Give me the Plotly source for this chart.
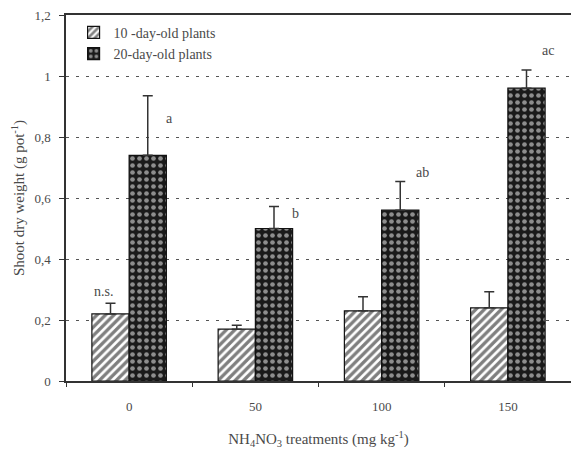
import plotly.graph_objects as go

categories = ["0", "50", "100", "150"]
day10 = [0.22, 0.17, 0.23, 0.24]
day10_err = [0.035, 0.013, 0.046, 0.053]
day20 = [0.74, 0.50, 0.56, 0.96]
day20_err = [0.195, 0.072, 0.094, 0.06]
letters10 = ["n.s.", "", "", ""]
letters20 = ["a", "b", "ab", "ac"]
yticks = [0, 0.2, 0.4, 0.6, 0.8, 1.0, 1.2]
yticklabels = ["0", "0,2", "0,4", "0,6", "0,8", "1", "1,2"]

FONT = "Liberation Serif"
TXT = "#4a4a4a"
# vertical placement of letter labels relative to the error-bar top (style, not data)
LETTER_DY20 = [-0.073, -0.022, 0.031, 0.065]

fig = go.Figure()
fig.add_trace(go.Bar(
    name="10 -day-old plants", x=categories, y=day10,
    marker=dict(color="white", line=dict(color="#111", width=1.2),
                pattern=dict(shape="/", fgcolor="#000", bgcolor="white", size=6, solidity=0.55)),
    error_y=dict(type="data", symmetric=False, array=day10_err, arrayminus=[0]*4,
                 color="#333", thickness=1.5, width=5),
))
fig.add_trace(go.Bar(
    name="20-day-old plants", x=categories, y=day20,
    marker=dict(color="#1a1a1a", line=dict(color="#111", width=1.2),
                pattern=dict(shape=".", fgcolor="white", bgcolor="#1a1a1a", size=7, solidity=0.35)),
    error_y=dict(type="data", symmetric=False, array=day20_err, arrayminus=[0]*4,
                 color="#333", thickness=1.5, width=5),
))

# letter annotations
for i, t in enumerate(letters10):
    if t:
        fig.add_annotation(x=i - 0.2, y=day10[i] + day10_err[i] + 0.04, text=t, showarrow=False,
                           font=dict(family=FONT, size=14, color=TXT))
for i, t in enumerate(letters20):
    if t:
        fig.add_annotation(x=i + 0.32, y=day20[i] + day20_err[i] + LETTER_DY20[i],
                           text=t, showarrow=False, xanchor="center",
                           font=dict(family=FONT, size=14, color=TXT))

fig.update_layout(
    width=571, height=449, autosize=False,
    margin=dict(l=66, r=0, t=15, b=68),
    plot_bgcolor="white", paper_bgcolor="white",
    barmode="group", bargap=0.41, bargroupgap=0,
    font=dict(family=FONT, size=12, color=TXT),
    showlegend=True,
    legend=dict(x=0.015, y=0.995, xanchor="left", yanchor="top", bgcolor="rgba(0,0,0,0)",
                font=dict(family=FONT, size=14, color=TXT), tracegroupgap=2, itemwidth=30),
    xaxis=dict(showline=True, linecolor="#333", linewidth=1.5, mirror=True, automargin=False,
               ticks="outside", ticklen=4, tickcolor="#333", tickson="boundaries",
               ticklabelstandoff=13,
               tickfont=dict(family=FONT, size=13, color=TXT),
               title=dict(text="NH<sub>4</sub>NO<sub>3</sub> treatments (mg kg<sup>-1</sup>)",
                          font=dict(family=FONT, size=15, color=TXT), standoff=20),
               range=[-0.5, 3.5]),
    yaxis=dict(range=[0, 1.2], tickvals=yticks, ticktext=yticklabels, automargin=False,
               showline=True, linecolor="#333", linewidth=1.5,
               ticks="outside", ticklen=5, tickcolor="#333", ticklabelstandoff=6,
               showgrid=True, gridcolor="#555", gridwidth=1.2, griddash="3px,7px",
               zeroline=False,
               tickfont=dict(family=FONT, size=13, color=TXT),
               title=dict(text="Shoot dry weight (g pot<sup>-1</sup>)",
                          font=dict(family=FONT, size=15, color=TXT), standoff=6)),
)

post = ("document.body.style.margin='0';document.body.style.overflow='hidden';"
        "Plotly.relayout('{plot_id}', {width:571, height:449});")
fig.write_html("out.html", config={"responsive": False, "displayModeBar": False}, post_script=post)
